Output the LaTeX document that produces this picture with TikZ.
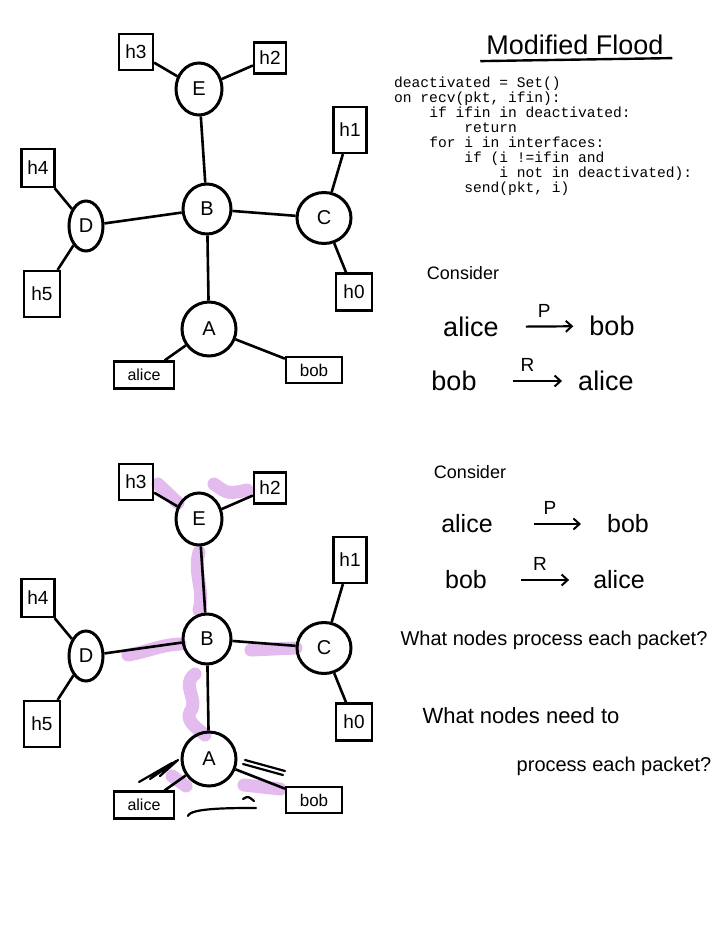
\documentclass[tikz,border=0pt]{standalone}
\usepackage{fontspec}
\setmainfont{Liberation Sans}
\setmonofont{Liberation Mono}
\usetikzlibrary{arrows.meta, shapes.geometric, backgrounds}

\definecolor{marker}{RGB}{218,164,234}

\begin{document}
\begin{tikzpicture}[x=1pt, y=-1pt,
  router/.style={draw, ellipse, line width=3pt, inner sep=0pt, font=\fontsize{20}{20}\selectfont},
  host/.style={draw, line width=2.2pt, minimum width=34pt, minimum height=36pt, inner sep=1pt, font=\fontsize{19}{19}\selectfont},
  link/.style={line width=2.6pt},
  hand/.style={inner sep=0pt, font=\fontsize{#1}{#1}\selectfont},
  arr/.style={-{Straight Barb[length=6pt, width=11pt, line width=2pt]}, line width=2.2pt},
  hl/.style={draw=marker, line width=13pt, line cap=round, line join=round, opacity=0.75},
  scribble/.style={line width=2.2pt, line cap=round, line join=round}
]
  \useasboundingbox (0,0) rectangle (720,945);

  % the same network twice, the lower copy gets marked up
  \foreach \g/\dy in {t/0, b/430} {
    \node[router, minimum width=46pt, minimum height=52pt] (\g E) at (199, 89+\dy) {E};
    \node[router, minimum width=48pt, minimum height=50pt] (\g B) at (207, 209+\dy) {B};
    \node[router, minimum width=54pt, minimum height=51pt] (\g C) at (324, 218+\dy) {C};
    \node[router, minimum width=34pt, minimum height=50pt] (\g D) at (86, 226+\dy) {D};
    \node[router, minimum width=54pt, minimum height=54pt] (\g A) at (209, 329+\dy) {A};
    \node[host] (\g h3) at (136, 52+\dy) {h3};
    \node[host, minimum width=32pt, minimum height=31pt] (\g h2) at (270, 58+\dy) {h2};
    \node[host, minimum width=33pt, minimum height=46pt] (\g h1) at (350, 130+\dy) {h1};
    \node[host, minimum width=33pt, minimum height=38pt] (\g h4) at (38, 168+\dy) {h4};
    \node[host, minimum width=36pt, minimum height=46pt] (\g h5) at (42, 294+\dy) {h5};
    \node[host, minimum width=36pt, minimum height=37pt] (\g h0) at (354, 292+\dy) {h0};
    \node[host, minimum width=60pt, minimum height=27pt, font=\fontsize{16}{16}\selectfont] (\g alice) at (144, 375+\dy) {alice};
    \node[host, minimum width=56pt, minimum height=26pt, font=\fontsize{17}{17}\selectfont] (\g bob) at (314, 370+\dy) {bob};

    \draw[link] (\g E) -- (\g h3);
    \draw[link] (\g E) -- (\g h2);
    \draw[link] (\g E) -- (\g B);
    \draw[link] (\g B) -- (\g D);
    \draw[link] (\g B) -- (\g C);
    \draw[link] (\g B) -- (\g A);
    \draw[link] (\g C) -- (\g h1);
    \draw[link] (\g C) -- (\g h0);
    \draw[link] (\g D) -- (\g h4);
    \draw[link] (\g D) -- (\g h5);
    \draw[link] (\g A) -- (\g alice);
    \draw[link] (\g A) -- (\g bob);
  }

  % marker strokes on the lower copy
  \begin{pgfonlayer}{background}
    \draw[hl] (158,484) -- (178,503);
    \draw[hl] (214,484) .. controls (228,494) .. (247,490);
    \draw[hl] (199,552) .. controls (193,575) and (205,590) .. (199,610);
    \draw[hl] (128,655) .. controls (150,651) and (160,645) .. (180,644);
    \draw[hl] (251,650) -- (296,648);
    \draw[hl] (195,674) .. controls (180,685) and (200,700) .. (190,712) .. controls (185,722) and (200,730) .. (205,735);
    \draw[hl] (172,776) -- (186,786);
    \draw[hl] (244,785) -- (280,789);
  \end{pgfonlayer}

  % scribbles round A
  \draw[scribble] (139,782) -- (172,763) -- (150,779) -- (176,761) -- (160,776) -- (178,760);
  \draw[scribble] (245,760) -- (285,771);
  \draw[scribble] (243,764) -- (283,775);
  \draw[scribble] (188,816) .. controls (190,808) and (230,808) .. (256,808);
  \draw[scribble] (243,799) .. controls (248,796) .. (254,801);

  % title and code
  \node[hand=27] (title) at (575, 45) {Modified Flood};
  \draw[line width=2.4pt] (title.south west) ++(-6,6) -- ++(192,-3);
  \node[anchor=north west, inner sep=0pt, align=left, font=\ttfamily\fontsize{14.6}{15}\selectfont] (code) at (394, 77) {%
deactivated = Set()\\
on recv(pkt, ifin):\\
\phantom{xxxx}if ifin in deactivated:\\
\phantom{xxxxxxxx}return\\
\phantom{xxxx}for i in interfaces:\\
\phantom{xxxxxxxx}if (i !=ifin and\\
\phantom{xxxxxxxxxxxx}i not in deactivated):\\
\phantom{xxxxxxxx}send(pkt, i)};

  % upper notes
  \node[hand=18] (tcons) at (463, 273) {Consider};
  \node[hand=27] (ta1) at (471, 327) {alice};
  \node[hand=27] (tb1) at (612, 326) {bob};
  \node[hand=27] (tb2) at (454, 381) {bob};
  \node[hand=27] (ta2) at (606, 381) {alice};
  \draw[arr, shorten <=27pt, shorten >=16pt] (ta1) -- node[hand=19, above=8pt] (tp) {P} (tb1);
  \draw[arr, shorten <=36pt, shorten >=16pt] (tb2) -- node[hand=19, above=8pt] (tr) {R} (ta2);

  % lower notes
  \node[hand=18] (bcons) at (470, 472) {Consider};
  \node[hand=25] (ba1) at (467, 524) {alice};
  \node[hand=25] (bb1) at (628, 524) {bob};
  \node[hand=25] (bb2) at (466, 580) {bob};
  \node[hand=25] (ba2) at (619, 580) {alice};
  \draw[arr, shorten <=41pt, shorten >=26pt] (ba1) -- node[hand=19, above=8pt] (bp) {P} (bb1);
  \draw[arr, shorten <=34pt, shorten >=24pt] (bb2) -- node[hand=19, above=8pt] (br) {R} (ba2);
  \node[hand=20] (q1) at (554, 640) {What nodes process each packet?};
  \node[hand=22] (q2) at (521, 716) {What nodes need to};
  \node[hand=20] (q3) at (614, 766) {process each packet?};
\end{tikzpicture}
\end{document}
